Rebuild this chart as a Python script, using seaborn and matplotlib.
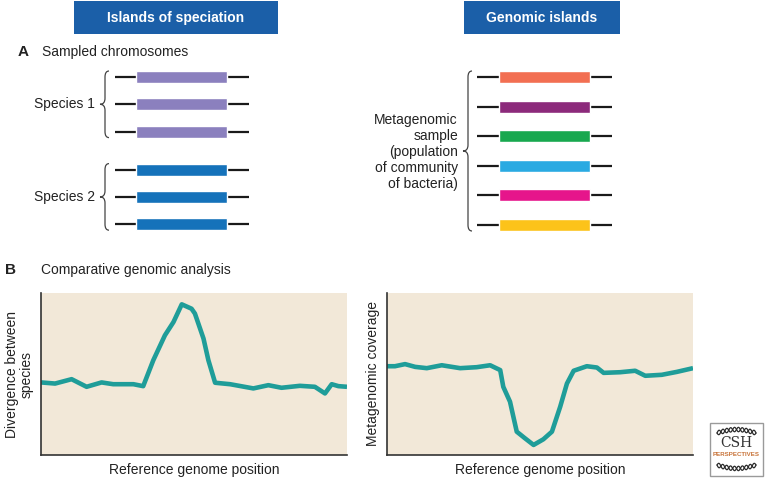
import numpy as np
import pandas as pd
import matplotlib
matplotlib.use("Agg")
import matplotlib.pyplot as plt
from matplotlib.patches import Rectangle, PathPatch
from matplotlib.path import Path
import seaborn as sns

# ---------------- data ----------------
headers = ["Islands of speciation", "Genomic islands"]
species_labels = ["Species 1", "Species 2"]
species_colors = ["#8b80be", "#1572ba"]
chromosomes_per_species = [3, 3]
metagenome_label = "Metagenomic\nsample\n(population\nof community\nof bacteria)"
metagenome_colors = ["#f26f52", "#8c2a7b", "#18a84f", "#2aaae2", "#e6158b", "#fcc31a"]

div_x = [0, 4.6, 10.0, 14.9, 19.8, 23.6, 30.2, 33.4, 36.7, 40.5, 43.3, 46.0, 49.2, 50.3,
         53.1, 54.7, 56.9, 61.8, 69.4, 74.3, 78.6, 84.6, 89.5, 92.8, 95.0, 97.2, 100]
div_y = [44.8, 44.1, 46.8, 42.1, 44.8, 43.7, 43.7, 42.5, 58.5, 73.9, 82.1, 93.0, 90.3, 87.3,
         71.9, 58.5, 44.6, 43.7, 41.1, 43.1, 41.5, 42.7, 42.1, 38.0, 43.7, 42.5, 42.1]

cov_x = [0, 2.6, 5.9, 9.2, 13.0, 17.9, 23.9, 29.3, 33.7, 37.0, 38.0, 40.2, 41.3, 42.4, 45.1,
         47.9, 51.1, 53.9, 56.6, 58.8, 61.0, 65.3, 68.6, 70.8, 76.2, 81.1, 84.4, 89.8, 94.7, 100]
cov_y = [54.8, 54.8, 56.1, 54.4, 53.6, 55.4, 53.6, 54.2, 55.4, 52.4, 42.1, 32.9, 23.6, 14.4, 10.3,
         6.2, 9.7, 14.4, 29.8, 44.1, 52.0, 54.8, 54.0, 50.7, 51.1, 52.0, 48.9, 49.5, 51.3, 53.6]

# ---------------- style ----------------
sns.set_style("white")
plt.rcParams["font.family"] = ["Liberation Sans", "DejaVu Sans"]

W, H = 765, 479
fig = plt.figure(figsize=(W / 100, H / 100), dpi=100)

BG = "#f2e8d8"
TEAL = "#1f9d99"
HDR = "#1b5fa8"
TXT = "#222222"

# ---------------- panel B: curves ----------------
def make_panel(left_px, y_data, x_data, ylabel):
    ax = fig.add_axes([left_px / W, (H - 455) / H, 306 / W, 162 / H])
    df = pd.DataFrame({"pos": x_data, "val": y_data})
    sns.lineplot(data=df, x="pos", y="val", ax=ax, color=TEAL, linewidth=3.3,
                 solid_joinstyle="round", solid_capstyle="butt")
    ax.set_facecolor(BG)
    ax.set_xlim(0, 100)
    ax.set_ylim(0, 100)
    ax.set_xticks([])
    ax.set_yticks([])
    for s in ["top", "right"]:
        ax.spines[s].set_visible(False)
    for s in ["left", "bottom"]:
        ax.spines[s].set_color("#333333")
        ax.spines[s].set_linewidth(1.2)
    ax.set_xlabel("Reference genome position", fontsize=10, color=TXT, labelpad=6)
    ax.set_ylabel(ylabel, fontsize=10, color=TXT, labelpad=5, linespacing=1.1)
    return ax

make_panel(41, div_y, div_x, "Divergence between\nspecies")
make_panel(387, cov_y, cov_x, "Metagenomic coverage")

# ---------------- overlay (pixel coordinates) ----------------
ov = fig.add_axes([0, 0, 1, 1], zorder=-1)
ov.set_xlim(0, W)
ov.set_ylim(H, 0)
ov.axis("off")

# header boxes
for (x0, x1), label in zip([(74, 278), (464, 620)], headers):
    ov.add_patch(Rectangle((x0, 1), x1 - x0, 33, facecolor=HDR, edgecolor="none"))
    ov.text((x0 + x1) / 2, 17.5, label, color="white", fontsize=10, fontweight="bold",
            ha="center", va="center")

ov.text(18, 52, "A", fontsize=11, fontweight="bold", color=TXT, va="center")
ov.text(42, 52, "Sampled chromosomes", fontsize=10, color=TXT, va="center")
ov.text(5, 270, "B", fontsize=11, fontweight="bold", color=TXT, va="center")
ov.text(41, 270, "Comparative genomic analysis", fontsize=10, color=TXT, va="center")


def brace(ax, x, y0, y1, depth=5, tip=5):
    ym = (y0 + y1) / 2
    xe = x + depth  # ends
    xt = x - tip    # tip
    verts = [(xe, y0), (x, y0), (x, y0 + 6), (x, ym - 6),
             (x, ym), (xt, ym), (xt, ym),
             (xt, ym), (x, ym), (x, ym + 6),
             (x, y1 - 6), (x, y1), (xe, y1)]
    codes = [Path.MOVETO, Path.CURVE3, Path.CURVE3, Path.LINETO,
             Path.CURVE3, Path.CURVE3, Path.MOVETO,
             Path.MOVETO, Path.CURVE3, Path.CURVE3,
             Path.LINETO, Path.CURVE3, Path.CURVE3]
    ax.add_patch(PathPatch(Path(verts, codes), facecolor="none", edgecolor="#444444", lw=0.9))


def chromosome(ax, y, color, line_x, bar_x):
    ax.hlines(y, line_x[0], line_x[1], color="#1a1a1a", lw=1.6, zorder=2)
    ax.barh(y, bar_x[1] - bar_x[0], left=bar_x[0], height=12, color=color, zorder=3)


# left: two species
y_start = 77
row_gap = 27.3
group_gap = 38
y = y_start
for label, color, n in zip(species_labels, species_colors, chromosomes_per_species):
    ys = [y + i * row_gap for i in range(n)]
    for yy in ys:
        chromosome(ov, yy, color, (115, 249), (136, 227))
    brace(ov, 105, ys[0] - 6, ys[-1] + 6, depth=4, tip=5)
    ov.text(95, (ys[0] + ys[-1]) / 2, label, fontsize=10, color=TXT, ha="right", va="center")
    y = ys[-1] + group_gap

# right: metagenomic sample
ys = [77 + i * 29.6 for i in range(len(metagenome_colors))]
for yy, color in zip(ys, metagenome_colors):
    chromosome(ov, yy, color, (477, 612), (499, 590))
brace(ov, 468, ys[0] - 6, ys[-1] + 6, depth=4, tip=5)
ov.text(458, (ys[0] + ys[-1]) / 2 + 1, metagenome_label, fontsize=10, color=TXT,
        ha="right", va="center", linespacing=1.2)

# logo
ov.add_patch(Rectangle((710, 423), 53, 53, facecolor="white", edgecolor="#9a9a9a", lw=1.0))
t = np.linspace(0, 1, 120)
for yc, sgn in [(433, -1), (465, 1)]:
    xs = 717 + t * 39
    base = yc + sgn * 3.5 * np.sin(np.pi * t)
    for ph in (0, np.pi):
        ov.plot(xs, base + 2.2 * np.sin(2 * np.pi * 5 * t + ph), color="#2a2a2a", lw=0.9)
ov.text(736.5, 443, "CSH", fontsize=10, family="DejaVu Serif", color="#333333",
        ha="center", va="center")
ov.text(736.5, 455, "PERSPECTIVES", fontsize=4.4, color="#c8743a", fontweight="bold",
        ha="center", va="center")

fig.savefig("out.png", dpi=100)
